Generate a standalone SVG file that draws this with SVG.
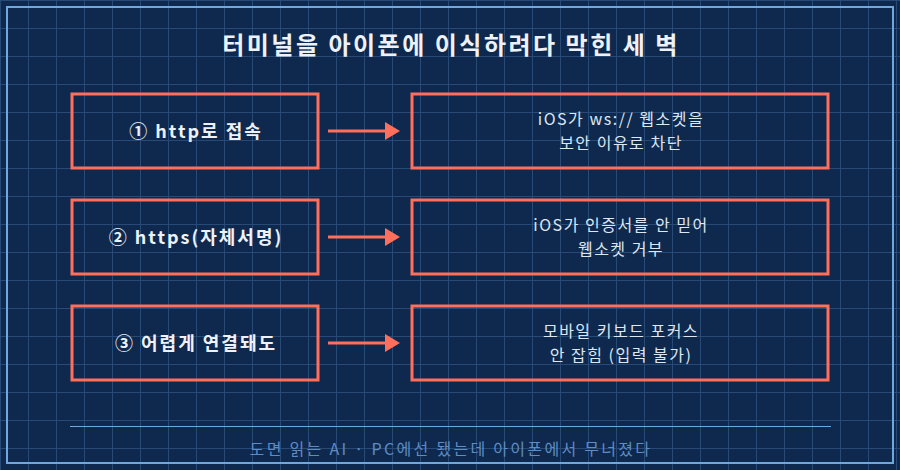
<svg xmlns="http://www.w3.org/2000/svg" width="900" height="470" viewBox="0 0 900 470">
  <defs>
    <pattern id="grid" width="28" height="28" patternUnits="userSpaceOnUse">
      <path d="M0.5 0 V28 M0 0.5 H28" fill="none" stroke="#284a77" stroke-width="1"/>
    </pattern>
    <marker id="arrow" markerUnits="userSpaceOnUse" markerWidth="16" markerHeight="18" refX="1" refY="9" orient="auto">
      <path d="M0,0 L15,9 L0,18 z" fill="#ff6f5c"/>
    </marker>
    <style>
      .box { fill: none; stroke: #ff6f5c; stroke-width: 3; }
      .lt { font-family: "Noto Sans CJK KR", "Noto Sans", sans-serif; font-weight: bold; font-size: 18px; letter-spacing: 2px; fill: #eef2f8; text-anchor: middle; }
      .rt { font-family: "Noto Sans CJK KR", "Noto Sans", sans-serif; font-weight: normal; font-size: 16px; letter-spacing: 1.5px; fill: #dfe7f1; text-anchor: middle; }
      .conn { stroke: #ff6f5c; stroke-width: 3; fill: none; marker-end: url(#arrow); }
    </style>
  </defs>
  <rect x="0" y="0" width="900" height="470" fill="#0e294d"/>
  <rect x="0" y="0" width="900" height="470" fill="url(#grid)"/>
  <rect x="7" y="7" width="886" height="456" fill="none" stroke="#6fa8dc" stroke-width="2"/>

  <text id="title" x="451" y="54" font-family="'Noto Sans CJK KR', 'Noto Sans', sans-serif" font-weight="bold" font-size="24" letter-spacing="2.5" fill="#eef2f8" text-anchor="middle">터미널을 아이폰에 이식하려다 막힌 세 벽</text>

  <g id="n1">
    <rect class="box" x="72" y="94" width="246" height="74"/>
    <text class="lt" x="196" y="138">① http로 접속</text>
  </g>
  <g id="n1r">
    <rect class="box" x="412" y="94" width="416" height="74"/>
    <text class="rt" x="621" y="125">iOS가 ws:// 웹소켓을</text>
    <text class="rt" x="621" y="149">보안 이유로 차단</text>
  </g>
  <g id="n2">
    <rect class="box" x="72" y="200" width="246" height="74"/>
    <text class="lt" x="196" y="244">② https(자체서명)</text>
  </g>
  <g id="n2r">
    <rect class="box" x="412" y="200" width="416" height="74"/>
    <text class="rt" x="621" y="231">iOS가 인증서를 안 믿어</text>
    <text class="rt" x="621" y="255">웹소켓 거부</text>
  </g>
  <g id="n3">
    <rect class="box" x="72" y="306" width="246" height="74"/>
    <text class="lt" x="196" y="350">③ 어렵게 연결돼도</text>
  </g>
  <g id="n3r">
    <rect class="box" x="412" y="306" width="416" height="74"/>
    <text class="rt" x="621" y="337">모바일 키보드 포커스</text>
    <text class="rt" x="621" y="361">안 잡힘 (입력 불가)</text>
  </g>

  <g id="connectors">
    <line class="conn" x1="328" y1="131" x2="386" y2="131"/>
    <line class="conn" x1="328" y1="237" x2="386" y2="237"/>
    <line class="conn" x1="328" y1="343" x2="386" y2="343"/>
  </g>

  <line x1="70" y1="426.5" x2="831" y2="426.5" stroke="#6fa8dc" stroke-width="1"/>
  <text id="footer" x="451" y="455" font-family="'Noto Sans CJK KR', 'Noto Sans', sans-serif" font-size="16" letter-spacing="2.3" fill="#5f8cc4" text-anchor="middle">도면 읽는 AI · PC에선 됐는데 아이폰에서 무너졌다</text>
</svg>
